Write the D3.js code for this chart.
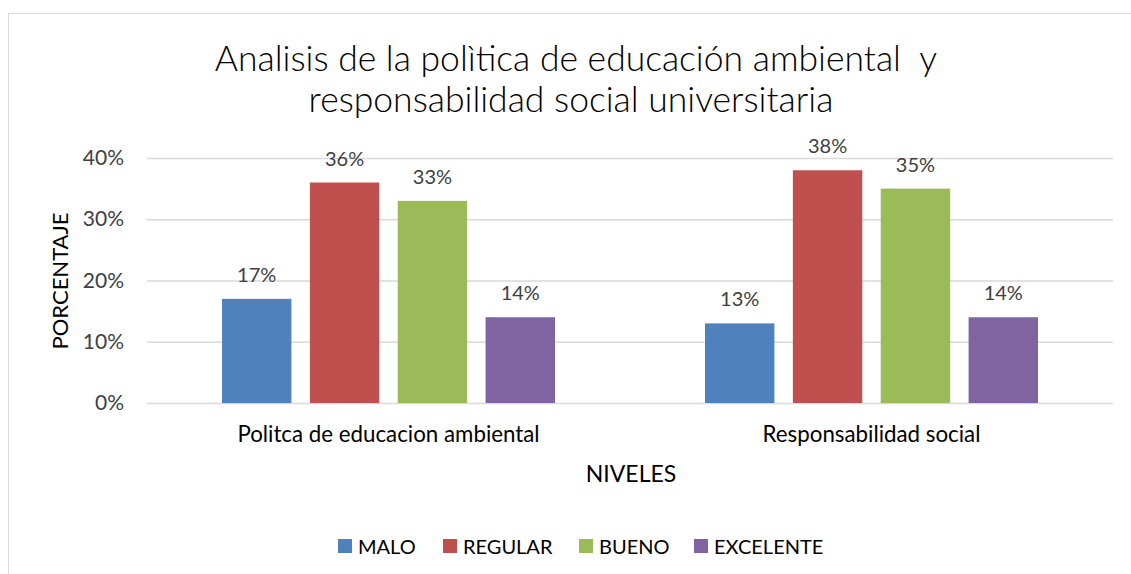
<!DOCTYPE html>
<html>
<head>
<meta charset="utf-8">
<script src="https://cdn.jsdelivr.net/npm/d3@7"></script>
<style>
  body { margin: 0; background: #fff; }
  text { font-family: Lato, "Open Sans", sans-serif; }
</style>
</head>
<body>
<div id="chart"></div>
<script>
const categories = ["Politca de educacion ambiental", "Responsabilidad social"];
const seriesNames = ["MALO", "REGULAR", "BUENO", "EXCELENTE"];
const malo = [0.17, 0.13];
const regular = [0.36, 0.38];
const bueno = [0.33, 0.35];
const excelente = [0.14, 0.14];
const yTicks = [0, 0.1, 0.2, 0.3, 0.4];
const colors = ["#4F81BD", "#C0504D", "#9BBB59", "#8064A2"];

const series = [malo, regular, bueno, excelente];

const W = 1131, H = 574;
const svg = d3.select("#chart").append("svg")
    .attr("width", W).attr("height", H);

// chart frame
svg.append("rect")
    .attr("x", 8.5).attr("y", 13.5)
    .attr("width", W + 10).attr("height", H + 10)
    .attr("fill", "none").attr("stroke", "#d9d9d9");

const plot = { left: 147, right: 1113, top: 158, bottom: 403 };

const x0 = d3.scaleBand().domain(categories).range([plot.left, plot.right]);
const x1 = d3.scaleBand().domain(seriesNames).range([0, 333]).paddingInner(0.21);
const y = d3.scaleLinear().domain([0, 0.4]).range([plot.bottom, plot.top]);

// gridlines
svg.append("g").selectAll("line").data(yTicks).enter().append("line")
    .attr("x1", plot.left).attr("x2", plot.right)
    .attr("y1", d => y(d) + 0.5).attr("y2", d => y(d) + 0.5)
    .attr("stroke", "#d9d9d9").attr("stroke-width", 1.3);

// y axis labels
const yAxis = d3.axisLeft(y).tickValues(yTicks).tickFormat(d3.format(".0%")).tickSize(0).tickPadding(0);
const ya = svg.append("g").attr("transform", `translate(124,0)`).call(yAxis);
ya.select(".domain").remove();
ya.selectAll("text").attr("font-size", 21).attr("fill", "#404040").style("font-family", "Lato, sans-serif");

// bars
const groups = svg.append("g").selectAll("g").data(categories).enter().append("g")
    .attr("transform", d => `translate(${x0(d) + (x0.bandwidth() - 333) / 2},0)`);

groups.each(function (cat, ci) {
    const g = d3.select(this);
    seriesNames.forEach((s, si) => {
        const v = series[si][ci];
        g.append("rect")
            .attr("x", x1(s)).attr("width", x1.bandwidth())
            .attr("y", y(v)).attr("height", y(0) - y(v))
            .attr("fill", colors[si]);
        g.append("text")
            .attr("x", x1(s) + x1.bandwidth() / 2)
            .attr("y", y(v) - 17)
            .attr("text-anchor", "middle")
            .attr("font-size", 20).attr("fill", "#404040")
            .text(d3.format(".0%")(v));
    });
});

// category labels
const xAxis = d3.axisBottom(x0).tickSize(0).tickPadding(0);
const xa = svg.append("g").attr("transform", `translate(0,${plot.bottom})`).call(xAxis);
xa.select(".domain").remove();
xa.selectAll("text").attr("dy", null).attr("y", 39)
    .attr("font-size", 22.3).attr("fill", "#000").style("font-family", "Lato, sans-serif");

// title
svg.append("text").attr("x", 576).attr("y", 71).attr("text-anchor", "middle")
    .attr("font-size", 35.5).attr("font-weight", 300).attr("fill", "#000")
    .attr("xml:space", "preserve")
    .text("Analisis de la polìtica de educación ambiental  y");
svg.append("text").attr("x", 571).attr("y", 112).attr("text-anchor", "middle")
    .attr("font-size", 35.5).attr("font-weight", 300).attr("fill", "#000")
    .text("responsabilidad social universitaria");

// axis titles
svg.append("text").attr("transform", "translate(68,281) rotate(-90)")
    .attr("text-anchor", "middle").attr("font-size", 22).attr("fill", "#000")
    .text("PORCENTAJE");
svg.append("text").attr("x", 631).attr("y", 482).attr("text-anchor", "middle")
    .attr("font-size", 23).attr("fill", "#000")
    .text("NIVELES");

// legend
const legendX = [338, 443, 579, 694];
const legend = svg.append("g").selectAll("g").data(seriesNames).enter().append("g")
    .attr("transform", (d, i) => `translate(${legendX[i]},539)`);
legend.append("rect").attr("width", 14).attr("height", 14).attr("fill", (d, i) => colors[i]);
legend.append("text").attr("x", 20).attr("y", 15).attr("font-size", 20).attr("fill", "#000").text(d => d);
</script>
</body>
</html>
